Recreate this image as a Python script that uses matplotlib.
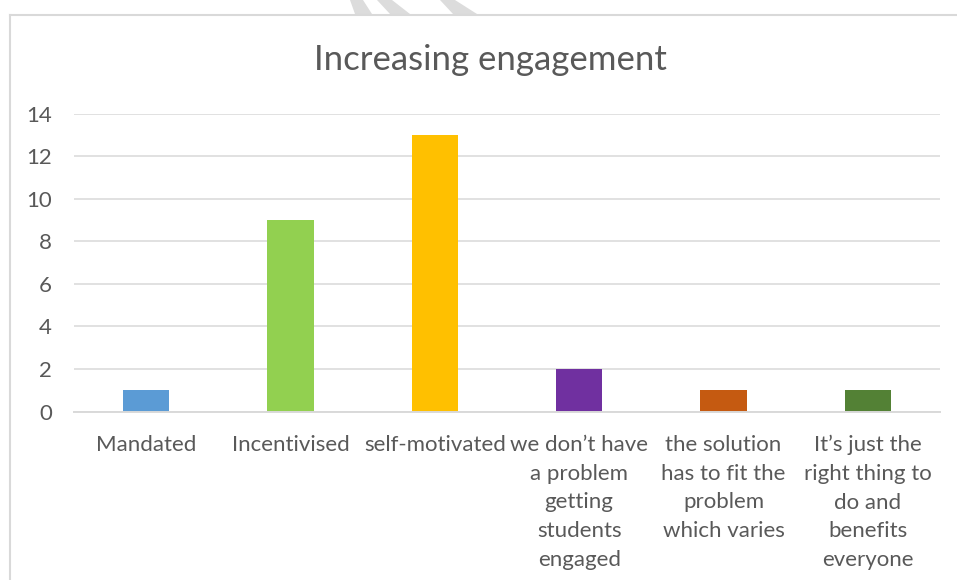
import matplotlib
matplotlib.use("Agg")
import matplotlib.pyplot as plt
from matplotlib.patches import Polygon
from matplotlib.lines import Line2D

categories = [
    "Mandated",
    "Incentivised",
    "self-motivated",
    "we don\u2019t have\na problem\ngetting\nstudents\nengaged",
    "the solution\nhas to fit the\nproblem\nwhich varies",
    "It\u2019s just the\nright thing to\ndo and\nbenefits\neveryone",
]
values = [1, 9, 13, 2, 1, 1]
colors = ["#5B9BD5", "#92D050", "#FFC000", "#7030A0", "#C55A11", "#538135"]
yticks = [0, 2, 4, 6, 8, 10, 12, 14]
title = "Increasing engagement"

plt.rcParams["font.family"] = ["Lato", "DejaVu Sans"]
text_color = "#595959"
grid_color = "#D9D9D9"

W, H = 957, 580
fig = plt.figure(figsize=(W / 100, H / 100), dpi=100)
fig.patch.set_facecolor("white")

# chart frame
fig.add_artist(Line2D([10 / W, 10 / W], [0, 1 - 15 / H], color=grid_color, lw=1.5,
                      transform=fig.transFigure))
fig.add_artist(Line2D([10 / W, 1], [1 - 15 / H, 1 - 15 / H], color=grid_color, lw=1.5,
                      transform=fig.transFigure))

# faint diagonal strokes along the top edge
def fpoly(pts):
    return Polygon([(x / W, 1 - y / H) for x, y in pts], closed=True,
                   transform=fig.transFigure, facecolor="#DCDCDC", edgecolor="none")

for pts in [
    [(350, 0), (363, 0), (372, 14), (355, 14)],
    [(377, 0), (392, 0), (410, 14), (390, 14)],
    [(440, 0), (455, 0), (477, 14), (453, 14)],
]:
    fig.add_artist(fpoly(pts))

left, right = 74 / W, 940 / W
bottom, top = 1 - 411.5 / H, 1 - 113.5 / H
ax = fig.add_axes([left, bottom, right - left, top - bottom])

x = list(range(len(categories)))
ax.bar(x, values, width=0.32, color=colors, zorder=3)
ax.set_xlim(-0.5, len(categories) - 0.5)
ax.set_ylim(0, 14)
ax.set_yticks(yticks)
ax.set_yticklabels([str(v) for v in yticks], fontsize=16, color=text_color)
ax.set_xticks(x)
ax.set_xticklabels(categories, fontsize=16, color=text_color,
                   linespacing=1.54, va="top", ha="center")
ax.tick_params(axis="both", length=0)
ax.tick_params(axis="y", pad=16)
ax.tick_params(axis="x", pad=17)

ax.grid(axis="y", color=grid_color, lw=1.1, zorder=0)
for s in ["top", "right", "left"]:
    ax.spines[s].set_visible(False)
ax.spines["bottom"].set_color(grid_color)
ax.spines["bottom"].set_linewidth(1.4)
ax.spines["bottom"].set_zorder(4)

fig.text(490 / W, 1 - 60 / H, title, ha="center", va="center",
         fontsize=25, color=text_color)

fig.savefig("out.png", dpi=100, facecolor="white")
